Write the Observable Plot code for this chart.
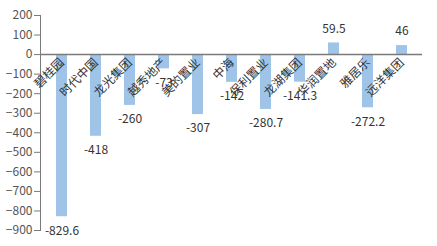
<!DOCTYPE html>
<html>
<head>
<meta charset="utf-8">
<script src="https://cdn.jsdelivr.net/npm/d3@7"></script>
<script src="https://cdn.jsdelivr.net/npm/@observablehq/plot@0.6"></script>
<style>
  html, body { margin: 0; padding: 0; background: #fff; }
  #chart svg { display: block; }
</style>
</head>
<body>
<div id="chart"></div>
<script>
const categories = ["碧桂园","时代中国","龙光集团","越秀地产","美的置业","中海","保利置业","龙湖集团","华润置地","雅居乐","远洋集团"];
const values = [-829.6, -418, -260, -73, -307, -142, -280.7, -141.3, 59.5, -272.2, 46];
const yTicks = [200, 100, 0, -100, -200, -300, -400, -500, -600, -700, -800, -900];

const data = categories.map((c, i) => ({ name: c, value: values[i] }));
const font = "'Noto Sans CJK SC', 'Noto Sans', sans-serif";

const chart = Plot.plot({
  width: 437,
  height: 246,
  marginLeft: 40,
  marginRight: 15,
  marginTop: 15,
  marginBottom: 16,
  style: { fontFamily: font, fontSize: "12px", background: "#fff" },
  x: { domain: categories, paddingInner: 0.68, paddingOuter: 0.34, axis: null },
  y: { domain: [-900, 200], axis: null },
  marks: [
    Plot.barY(data, { x: "name", y: "value", fill: "#9fc4e8" }),
    Plot.ruleY([0], { stroke: "#7a7a7a", strokeWidth: 1.5 }),
    Plot.axisY({ ticks: yTicks, tickSize: 6, tickPadding: 2, stroke: "#7a7a7a", color: "#555", fontSize: 12, label: null }),
    Plot.frame({ anchor: "left", stroke: "#7a7a7a" }),
    Plot.text(data, { x: "name", y: () => 0, text: "name", rotate: -45, textAnchor: "end", lineAnchor: "middle", dx: 0, dy: 6, fill: "#333", fontSize: 12 }),
    Plot.text(data.filter(d => d.value < 0), { x: "name", y: "value", text: d => String(d.value), dy: 14, fill: "#333", fontSize: 12 }),
    Plot.text(data.filter(d => d.value >= 0), { x: "name", y: "value", text: d => String(d.value), dy: -14, fill: "#333", fontSize: 12 })
  ]
});
document.getElementById("chart").appendChild(chart);
</script>
</body>
</html>
